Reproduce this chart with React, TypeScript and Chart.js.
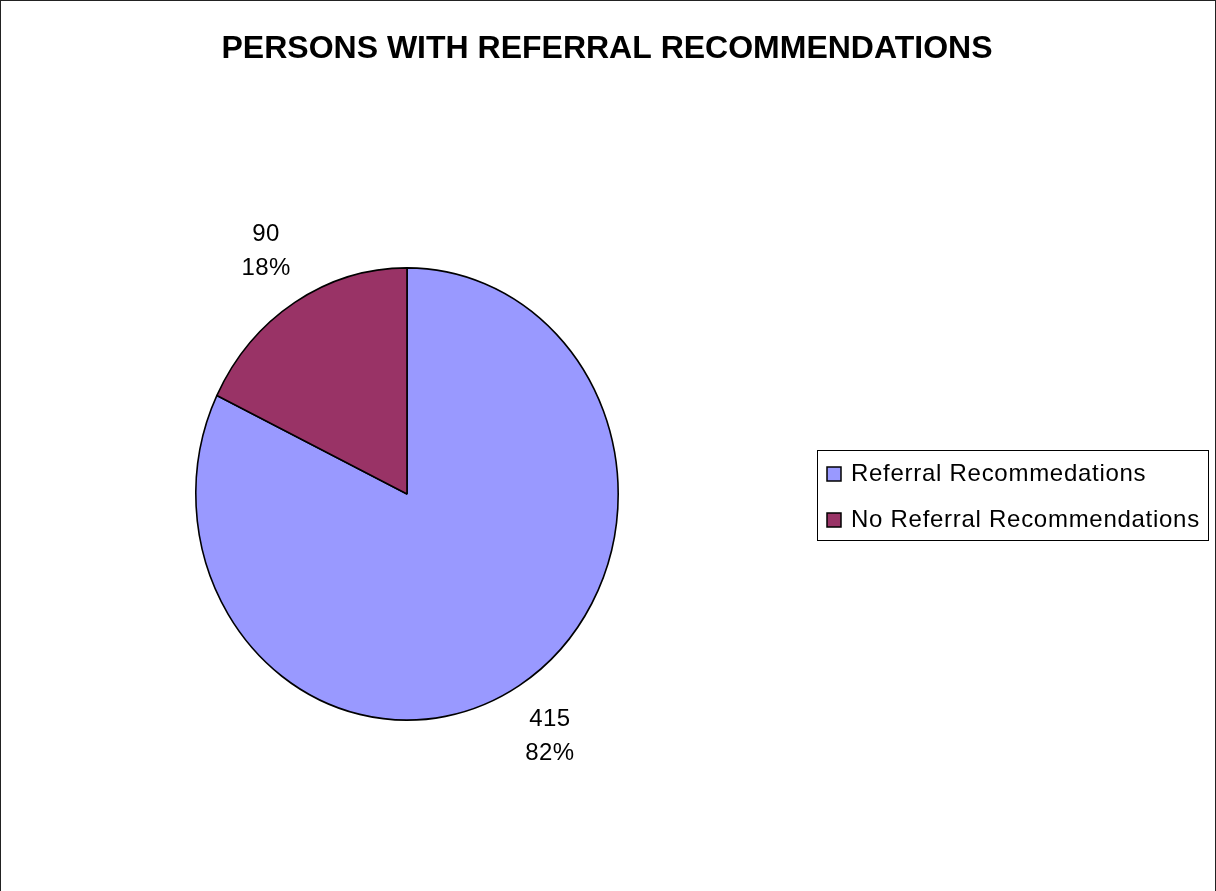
import React, { useEffect, useRef } from "react";
import { Chart, registerables } from "chart.js";

Chart.register(...registerables);

const chartTitle = "PERSONS WITH REFERRAL RECOMMENDATIONS";
const categories = ["Referral Recommedations", "No Referral Recommendations"];
const values = [415, 90];
const colors = ["#9999FF", "#993366"];

const W = 1216;
const H = 891;
const CX = 407;
const CY = 494;
const R = 212;
const YSCALE = 227 / 212;

const customPlugin = {
  id: "excelLook",
  beforeDatasetsDraw(chart: any) {
    const ctx = chart.ctx;
    ctx.save();
    const meta = chart.getDatasetMeta(0);
    const arc = meta.data[0];
    const cx = arc.x;
    const cy = arc.y;
    ctx.translate(cx, cy);
    ctx.scale(1, YSCALE);
    ctx.translate(-cx, -cy);
  },
  afterDatasetsDraw(chart: any) {
    chart.ctx.restore();
  },
  afterDraw(chart: any) {
    const ctx = chart.ctx;
    ctx.save();
    // frame
    ctx.strokeStyle = "#222";
    ctx.lineWidth = 1;
    ctx.strokeRect(0.5, 0.5, W - 1, H + 10);
    // title
    ctx.fillStyle = "#000";
    ctx.font = "bold 32px 'Liberation Sans', Arial, sans-serif";
    ctx.textAlign = "center";
    ctx.textBaseline = "middle";
    ctx.fillText(chartTitle, 607, 49);

    // data labels
    const meta = chart.getDatasetMeta(0);
    const data = chart.data.datasets[0].data as number[];
    const total = data.reduce((a, b) => a + b, 0);
    ctx.font = "24px 'Liberation Sans', Arial, sans-serif";
    (ctx as any).letterSpacing = "0.4px";
    meta.data.forEach((arc: any, i: number) => {
      const mid = (arc.startAngle + arc.endAngle) / 2;
      const lr = arc.outerRadius + 56;
      const x = arc.x + Math.cos(mid) * lr;
      const y = arc.y + Math.sin(mid) * lr * YSCALE;
      const pct = Math.round((data[i] / total) * 100) + "%";
      ctx.fillText(String(data[i]), x + 1, y - 17);
      ctx.fillText(pct, x + 1, y + 17);
    });

    // legend
    const lx = 817.5, ly = 450.5, lw = 391, lh = 90;
    ctx.strokeStyle = "#000";
    ctx.lineWidth = 1;
    ctx.strokeRect(lx, ly, lw, lh);
    ctx.textAlign = "left";
    (ctx as any).letterSpacing = "0.72px";
    const labels = chart.data.labels as string[];
    const bg = chart.data.datasets[0].backgroundColor as string[];
    const rowY = [474, 520];
    labels.forEach((lab, i) => {
      const y = rowY[i];
      ctx.fillStyle = bg[i];
      ctx.fillRect(827, y - 7, 14, 14);
      ctx.strokeStyle = "#000";
      ctx.lineWidth = 1.5;
      ctx.strokeRect(827, y - 7, 14, 14);
      ctx.fillStyle = "#000";
      ctx.fillText(lab, 851, y);
    });
    ctx.restore();
  },
};

export default function App() {
  const ref = useRef<HTMLCanvasElement>(null);
  useEffect(() => {
    document.body.style.margin = "0";
    const canvas = ref.current!;
    const chart = new Chart(canvas, {
      type: "pie",
      data: {
        labels: categories,
        datasets: [
          {
            data: values,
            backgroundColor: colors,
            borderColor: "#000",
            borderWidth: 1.6,
          },
        ],
      },
      options: {
        responsive: false,
        animation: false,
        layout: {
          padding: {
            left: CX - R,
            right: W - (CX + R),
            top: CY - R,
            bottom: H - (CY + R),
          },
        },
        plugins: {
          legend: { display: false },
          title: { display: false },
          tooltip: { enabled: false },
        },
      },
      plugins: [customPlugin],
    });
    return () => chart.destroy();
  }, []);
  return (
    <div style={{ width: W, height: H, background: "#fff" }}>
      <canvas ref={ref} width={W} height={H} style={{ display: "block" }} />
    </div>
  );
}
